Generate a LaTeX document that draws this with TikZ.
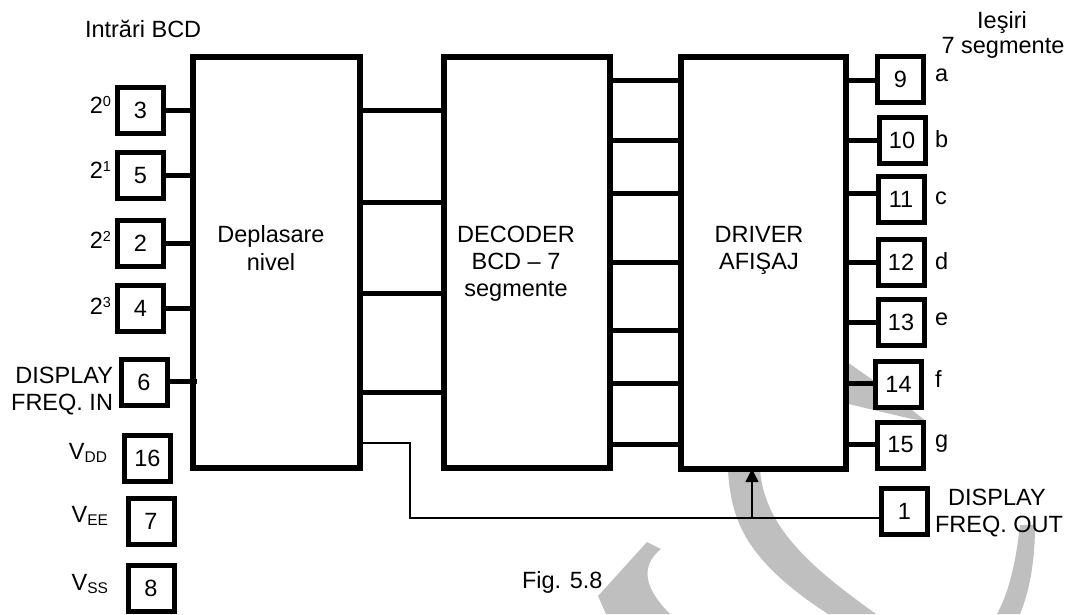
\documentclass[tikz,border=0pt]{standalone}
\usepackage{fontspec}
\setmainfont{Liberation Sans}
\usetikzlibrary{arrows.meta}
\definecolor{wmgray}{gray}{0.75}
\tikzset{
  wire/.style={line width=5pt},
  thinwire/.style={line width=1.5pt},
  blockbox/.style={draw, line width=5.5pt, fill=white, inner sep=0pt, outer sep=0pt},
  pinbox/.style={draw, line width=5pt, fill=white, minimum width=46pt, minimum height=46pt, inner sep=0pt, outer sep=0pt},
  txt/.style={inner sep=0pt, outer sep=0pt},
  watermark/.style={fill=wmgray}
}
\newcommand{\supnum}[1]{\raisebox{7pt}{\fontsize{14.5}{14.5}\selectfont #1}}
\newcommand{\subtxt}[1]{\raisebox{-3pt}{\fontsize{15.5}{16}\selectfont #1}}
\begin{document}
\begin{tikzpicture}[x=1pt, y=-1pt, font=\fontsize{23.5}{28}\selectfont]
\useasboundingbox (0,0) rectangle (1069,614);

% ---- watermark (light grey strokes behind the drawing)
\fill[watermark] (727,460) -- (728,470) .. controls (731,520) and (745,560) .. (828,614)
  -- (876,614) .. controls (815,570) and (765,530) .. (760,470) -- (760,460) -- cycle;
\fill[watermark] (840,357) -- (880,385) -- (926,421) -- (912,419) -- (840,402) -- cycle;
\fill[watermark] (1020,525) -- (1035,525) .. controls (1035,560) and (1030,590) .. (1020,614)
  -- (997,614) .. controls (1010,590) and (1016,560) .. (1020,525) -- cycle;
\fill[watermark] (647,542) -- (661,549) .. controls (645,562) and (638,582) .. (670,614)
  -- (606,614) -- (598,596) -- cycle;

% ---- blocks
\node[blockbox, minimum width=167pt, minimum height=411pt] (b1) at (276.5,262.5) {};
\node[blockbox, minimum width=166pt, minimum height=411pt] (b2) at (527,262.5) {};
\node[blockbox, minimum width=165pt, minimum height=412pt] (b3) at (763.5,263) {};

\node[txt, anchor=base] (t1a) at (271,242) {Deplasare};
\node[txt, anchor=base] (t1b) at (271,270) {nivel};
\node[txt, anchor=base] (t2a) at (516,242) {DECODER};
\node[txt, anchor=base] (t2b) at (516,269) {BCD – 7};
\node[txt, anchor=base] (t2c) at (516,296) {segmente};
\node[txt, anchor=base] (t3a) at (759,242) {DRIVER};
\node[txt, anchor=base] (t3b) at (759,269) {AFIŞAJ};

% ---- left pins
\node[pinbox] (p3)  at (140.5,110.5) {3};
\node[pinbox] (p5)  at (140.5,175.5) {5};
\node[pinbox] (p2)  at (140.5,243)   {2};
\node[pinbox] (p4)  at (140.5,308)   {4};
\node[pinbox] (p6)  at (144,382.5)   {6};
\node[pinbox] (p16) at (147.5,458)   {16};
\node[pinbox] (p7)  at (151,521)     {7};
\node[pinbox] (p8)  at (151,588)     {8};

% ---- right pins
\node[pinbox] (p9)  at (900.5,79.5) {9};
\node[pinbox] (p10) at (902,140)    {10};
\node[pinbox] (p11) at (901,199.5)  {11};
\node[pinbox] (p12) at (901,262)    {12};
\node[pinbox] (p13) at (901,322)    {13};
\node[pinbox] (p14) at (898.5,384)  {14};
\node[pinbox] (p15) at (900.5,445)  {15};
\node[pinbox] (p1)  at (904.5,511.5) {1};

% ---- wires: inputs
\draw[wire] (p3.east |- 0,110) -- (b1.west |- 0,110);
\draw[wire] (p5.east |- 0,175) -- (b1.west |- 0,175);
\draw[wire] (p2.east |- 0,243) -- (b1.west |- 0,243);
\draw[wire] (p4.east |- 0,308) -- (b1.west |- 0,308);
\draw[wire] (p6.east |- 0,381) -- ([xshift=4pt]b1.west |- 0,381);

% ---- wires: block1 -> block2
\foreach \yy in {110,202,293,392}
  \draw[wire] (b1.east |- 0,\yy) -- (b2.west |- 0,\yy);

% ---- wires: block2 -> block3
\foreach \yy in {80,140,193,262,330,383,444}
  \draw[wire] (b2.east |- 0,\yy) -- (b3.west |- 0,\yy);

% ---- wires: block3 -> outputs
\draw[wire] (b3.east |- 0,80)  -- (p9.west |- 0,80);
\draw[wire] (b3.east |- 0,140) -- (p10.west |- 0,140);
\draw[wire] (b3.east |- 0,193) -- (p11.west |- 0,193);
\draw[wire] (b3.east |- 0,262) -- (p12.west |- 0,262);
\draw[wire] (b3.east |- 0,322) -- (p13.west |- 0,322);
\draw[wire] (b3.east |- 0,383) -- (p14.west |- 0,383);
\draw[wire] (b3.east |- 0,444) -- (p15.west |- 0,444);

% ---- display frequency out path
\coordinate (j) at (752,518);
\draw[thinwire] (p1.west |- 0,518) -| (410,443) -- (b1.east |- 0,443);
\draw[thinwire, -{Triangle[length=13pt, width=13pt]}] (j) -- (b3.south -| j);

% ---- labels
\node[txt, anchor=base west] (lin) at (85,37) {Intrări BCD};
\node[txt, anchor=base east] (l20) at (111,113) {2\supnum{0}};
\node[txt, anchor=base east] (l21) at (111,178) {2\supnum{1}};
\node[txt, anchor=base east] (l22) at (111,248) {2\supnum{2}};
\node[txt, anchor=base east] (l23) at (111,314) {2\supnum{3}};
\node[txt, anchor=base east] (ldi1) at (113,383) {DISPLAY};
\node[txt, anchor=base east] (ldi2) at (113,410) {FREQ. IN};
\node[txt, anchor=base east] (lvdd) at (107,459) {V\subtxt{DD}};
\node[txt, anchor=base east] (lvee) at (108,522) {V\subtxt{EE}};
\node[txt, anchor=base east] (lvss) at (108,590) {V\subtxt{SS}};

\node[txt, anchor=base] (lie1) at (1002,28) {Ieşiri};
\node[txt, anchor=base] (lie2) at (1003,53) {7 segmente};
\node[txt, anchor=base west] (la) at (935,81)  {a};
\node[txt, anchor=base west] (lb) at (935,147) {b};
\node[txt, anchor=base west] (lc) at (935,204) {c};
\node[txt, anchor=base west] (ld) at (935,269) {d};
\node[txt, anchor=base west] (le) at (935,325) {e};
\node[txt, anchor=base west] (lf) at (935,387) {f};
\node[txt, anchor=base west] (lg) at (935,447) {g};
\node[txt, anchor=base] (ldo1) at (997,505) {DISPLAY};
\node[txt, anchor=base] (ldo2) at (999,532) {FREQ. OUT};

\node[txt, anchor=base west] (fig) at (522,588) {Fig. 5.8};
\end{tikzpicture}
\end{document}
